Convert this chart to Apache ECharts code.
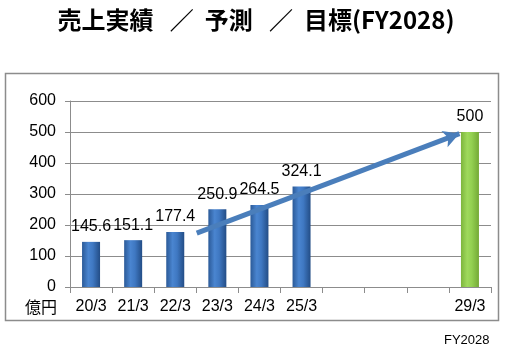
<!DOCTYPE html>
<html><head><meta charset="utf-8">
<script src="https://cdn.jsdelivr.net/npm/echarts@6/dist/echarts.min.js"></script>
<style>html,body{margin:0;padding:0;background:#fff}#c{width:512px;height:352px}</style>
</head><body><div id="c"></div>
<script>
const categories = ['20/3','21/3','22/3','23/3','24/3','25/3','','','','29/3'];
const actualValues = [145.6,151.1,177.4,250.9,264.5,324.1,null,null,null,null];
const targetValues = [null,null,null,null,null,null,null,null,null,500];
const yTicks = {min:0, max:600, interval:100};
const arrowFrom = [2.51,174];
const arrowTo = [8.75,495];
const titleText = '売上実績   ／  予測   ／  目標(FY2028)';
const unitText = '億円';
const footText = 'FY2028';

const chart = echarts.init(document.getElementById('c'));
const blueGrad = new echarts.graphic.LinearGradient(0,0,1,0,[
  {offset:0,color:'#2b5a98'},{offset:0.35,color:'#4a85d0'},{offset:0.6,color:'#3f78c2'},{offset:1,color:'#234d86'}]);
const greenGrad = new echarts.graphic.LinearGradient(0,0,1,0,[
  {offset:0,color:'#7db53c'},{offset:0.35,color:'#9fd95c'},{offset:0.6,color:'#93d051'},{offset:1,color:'#74a936'}]);
const lblFont = 'Liberation Sans';
chart.setOption({
  animation:false,
  title:{text:titleText,left:'center',top:3,textStyle:{fontFamily:'Noto Sans CJK JP',fontWeight:'bold',fontSize:24,color:'#000'}},
  grid:{left:70,right:21,top:101,bottom:65,containLabel:false},
  xAxis:[{type:'category',data:categories,boundaryGap:true,
    axisLine:{lineStyle:{color:'#8c8c8c'}},
    axisTick:{show:true,length:6,alignWithLabel:false,lineStyle:{color:'#8c8c8c'}},
    axisLabel:{interval:0,margin:12,fontFamily:lblFont,fontSize:16,color:'#000'}},
    {type:'value',min:-0.5,max:9.5,show:false}],
  yAxis:{type:'value',min:yTicks.min,max:yTicks.max,interval:yTicks.interval,
    axisLine:{show:true,onZero:false,lineStyle:{color:'#8c8c8c'}},
    axisTick:{show:true,length:5,lineStyle:{color:'#8c8c8c'}},
    splitLine:{lineStyle:{color:'#8c8c8c'}},
    axisLabel:{margin:14,fontFamily:lblFont,fontSize:16,color:'#000'}},
  series:[
    {type:'bar',data:actualValues,barWidth:18,barGap:'-100%',itemStyle:{color:blueGrad},
     label:{show:true,position:'top',distance:7,fontFamily:lblFont,fontSize:16,color:'#000'}},
    {type:'bar',data:targetValues,barWidth:18,barGap:'-100%',itemStyle:{color:greenGrad},
     label:{show:true,position:'top',distance:7,fontFamily:lblFont,fontSize:16,color:'#000'}},
    {type:'line',xAxisIndex:1,data:[],silent:true,
     markLine:{silent:true,symbol:['none','arrow'],symbolSize:[13,16],label:{show:false},
       lineStyle:{color:'#4a7ebb',width:5,type:'solid'},
       data:[[{coord:arrowFrom},{coord:arrowTo}]]}}
  ],
  graphic:[
    {type:'rect',shape:{x:5.5,y:73.5,width:493,height:247},style:{fill:null,stroke:'#8c8c8c',lineWidth:1.5},silent:true,z:-1},
    {type:'text',left:25,top:299,style:{text:unitText,font:'16px "Noto Sans CJK JP"',fill:'#000'}},
    {type:'text',left:444,top:334,style:{text:footText,font:'13px "Liberation Sans"',fill:'#000'}}
  ]
});
</script></body></html>
